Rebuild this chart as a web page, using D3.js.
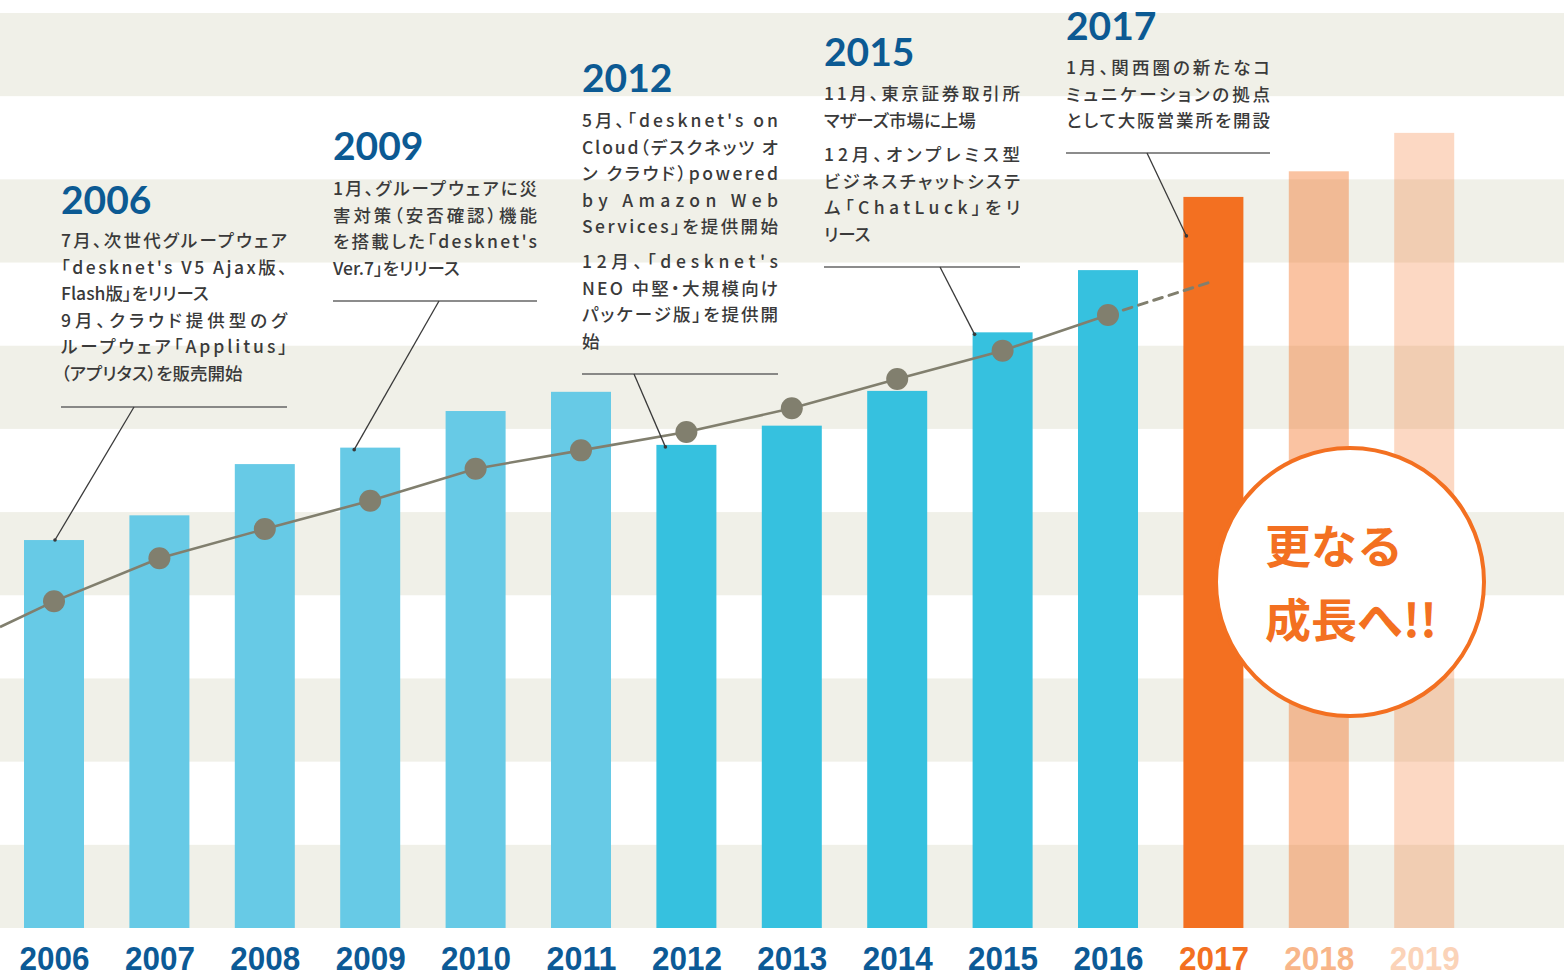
<!DOCTYPE html>
<html>
<head>
<meta charset="utf-8">
<script src="https://cdn.jsdelivr.net/npm/d3@7"></script>
<style>
  body { margin: 0; background: #fff; }
  svg { display: block; }
  .note { font-feature-settings: "palt"; }
</style>
</head>
<body>
<div id="chart"></div>
<script>
// years on the x axis
var years = ["2006","2007","2008","2009","2010","2011","2012","2013","2014","2015","2016","2017","2018","2019"];
// bar heights (relative units, 0-100)
var barValues = [42.4, 45.1, 50.7, 52.5, 56.5, 58.6, 52.8, 54.9, 58.7, 65.1, 71.9, 79.9, 82.7, 86.9];
// growth line (solid part 2006-2016), then the dashed forecast to 2017
var lineYears = ["2006","2007","2008","2009","2010","2011","2012","2013","2014","2015","2016"];
var lineValues = [35.7, 40.4, 43.6, 46.7, 50.2, 52.2, 54.2, 56.8, 60.0, 63.1, 67.0];
var lineLeadIn = 32.9;          // value where the line enters at the left edge
var forecastYear = "2017";
var forecastValue = 70.7;

// milestone notes
var noteYears = ["2006", "2009", "2012", "2015", "2017"];
var noteLines = [
  ["7月、次世代グループウェア", "「desknet's V5 Ajax版、", "Flash版」をリリース", "9月、クラウド提供型のグ", "ループウェア「Applitus」", "（アプリタス）を販売開始"],
  ["1月、グループウェアに災", "害対策（安否確認）機能", "を搭載した「desknet's", "Ver.7」をリリース"],
  ["5月、「desknet's on", "Cloud（デスクネッツ オ", "ン クラウド）powered", "by Amazon Web", "Services」を提供開始", "12月、「desknet's", "NEO 中堅・大規模向け", "パッケージ版」を提供開", "始"],
  ["11月、東京証券取引所", "マザーズ市場に上場", "12月、オンプレミス型", "ビジネスチャットシステ", "ム「ChatLuck」をリ", "リース"],
  ["1月、関西圏の新たなコ", "ミュニケーションの拠点", "として大阪営業所を開設"]
];
var bubbleLines = ["更なる", "成長へ!!"];

// layout of each note block (kept apart from the data)
var noteLayout = [
  {x: 61,   w: 226, head: 214, first: 247, gaps: [0,1,2,3,4,5],       just: [1,1,0,1,1,0],         ruleY: 407, topX: 134,  dx: 31, dy: 0},
  {x: 333,  w: 204, head: 160, first: 195, gaps: [0,1,2,3],           just: [1,1,1,0],             ruleY: 301, topX: 439,  dx: 14, dy: 2},
  {x: 582,  w: 196, head: 92,  first: 127, gaps: [0,1,2,3,4,5.3,6.3,7.3,8.3], just: [1,1,1,1,1,1,1,1,0], ruleY: 374, topX: 634, dx: 9, dy: 2},
  {x: 824,  w: 196, head: 66,  first: 100, gaps: [0,1,2.3,3.3,4.3,5.3], just: [1,0,1,1,1,0],       ruleY: 267, topX: 940,  dx: 2,  dy: 2},
  {x: 1066, w: 204, head: 40,  first: 74,  gaps: [0,1,2],             just: [1,1,1],               ruleY: 153, topX: 1147, dx: 3,  dy: 39}
];

var W = 1564, H = 978;
var barW = 60;
var lineH = 26.6;

var svg = d3.select("#chart").append("svg")
    .attr("width", W)
    .attr("height", H);

// scales
var x = d3.scalePoint()
    .domain(years)
    .range([54, 1424.2]);

var y = d3.scaleLinear()
    .domain([0, 100])
    .range([928, 13]);

// background stripes
var nBands = 11;
var bandH = (y(0) - y(100)) / nBands;
svg.append("g").selectAll("rect")
    .data(d3.range(0, nBands, 2))
    .join("rect")
      .attr("x", 0)
      .attr("y", function (i) { return y(100) + i * bandH; })
      .attr("width", W)
      .attr("height", bandH)
      .attr("fill", "#f0f0e8");

// bar colours
function barFill(yr) {
    var n = +yr;
    if (n <= 2011) return "#67cae6";
    if (n <= 2016) return "#36c1df";
    return "#f37021";
}
function barOpacity(yr) {
    if (yr === "2018") return 0.42;
    if (yr === "2019") return 0.27;
    return 1;
}

svg.append("g").selectAll("rect")
    .data(years)
    .join("rect")
      .attr("x", function (d) { return x(d) - barW / 2; })
      .attr("y", function (d, i) { return y(barValues[i]); })
      .attr("width", barW)
      .attr("height", function (d, i) { return y(0) - y(barValues[i]); })
      .attr("fill", barFill)
      .attr("fill-opacity", barOpacity);

// growth line
var linePts = [[0, y(lineLeadIn)]].concat(lineYears.map(function (d, i) { return [x(d), y(lineValues[i])]; }));
svg.append("path")
    .attr("d", d3.line()(linePts))
    .attr("fill", "none")
    .attr("stroke", "#817f6e")
    .attr("stroke-width", 2.6);

var last = linePts[linePts.length - 1];
svg.append("path")
    .attr("d", d3.line()([last, [x(forecastYear), y(forecastValue)]]))
    .attr("fill", "none")
    .attr("stroke", "#817f6e")
    .attr("stroke-width", 3)
    .attr("stroke-dasharray", "9,7")
    .attr("stroke-linecap", "round");

svg.append("g").selectAll("circle")
    .data(lineYears)
    .join("circle")
      .attr("cx", function (d) { return x(d); })
      .attr("cy", function (d, i) { return y(lineValues[i]); })
      .attr("r", 11)
      .attr("fill", "#817f6e");

// year labels along the bottom
var labelColor = {"2017": "#f37021", "2018": "#f8b68a", "2019": "#fbd3b8"};
var xAxis = svg.append("g")
    .attr("transform", "translate(0," + 940 + ")")
    .call(d3.axisBottom(x).tickSize(0).tickPadding(0));
xAxis.select(".domain").remove();
xAxis.selectAll("text")
    .attr("y", 30)
    .attr("dy", 0)
    .attr("font-family", "'Liberation Sans', Arial, sans-serif")
    .attr("font-weight", "bold")
    .attr("font-size", 33)
    .attr("textLength", 70)
    .attr("lengthAdjust", "spacingAndGlyphs")
    .attr("fill", function (d) { return labelColor[d] || "#0c5a96"; });

// milestone notes
noteYears.forEach(function (yr, k) {
    var L = noteLayout[k];
    var g = svg.append("g");
    var bi = years.indexOf(yr);

    g.append("text")
        .attr("x", L.x)
        .attr("y", L.head)
        .attr("font-family", "Lato, 'Open Sans', sans-serif")
        .attr("font-weight", "bold")
        .attr("font-size", 39)
        .attr("fill", "#0c5a93")
        .text(yr);

    g.selectAll("text.note")
        .data(noteLines[k])
        .join("text")
          .attr("class", "note")
          .attr("x", L.x)
          .attr("y", function (d, i) { return L.first + L.gaps[i] * lineH; })
          .attr("font-family", "'Noto Sans CJK JP', sans-serif")
          .attr("font-weight", 500)
          .attr("font-size", 17.5)
          .attr("fill", "#3a3a3a")
          .each(function (d, i) {
              if (L.just[i]) d3.select(this).attr("textLength", L.w).attr("lengthAdjust", "spacing");
          })
          .text(function (d) { return d; });

    // rule under the note
    g.append("line")
        .attr("x1", L.x).attr("x2", L.x + L.w)
        .attr("y1", L.ruleY).attr("y2", L.ruleY)
        .attr("stroke", "#666")
        .attr("stroke-width", 1.3);

    // leader to the bar
    var ex = x(yr) - barW / 2 + L.dx;
    var ey = y(barValues[bi]) + L.dy;
    g.append("line")
        .attr("x1", L.topX).attr("y1", L.ruleY)
        .attr("x2", ex).attr("y2", ey)
        .attr("stroke", "#3a3a3a")
        .attr("stroke-width", 1.3);
    g.append("circle")
        .attr("cx", ex).attr("cy", ey)
        .attr("r", 1.8)
        .attr("fill", "#3a3a3a");
});

// "更なる成長へ!!" bubble
var bubble = svg.append("g");
bubble.append("circle")
    .attr("cx", 1350)
    .attr("cy", 582)
    .attr("r", 134)
    .attr("fill", "#fff")
    .attr("stroke", "#f37021")
    .attr("stroke-width", 4);
bubble.selectAll("text")
    .data(bubbleLines)
    .join("text")
      .attr("x", 1265)
      .attr("y", function (d, i) { return 563 + i * 74; })
      .attr("font-family", "'Noto Sans CJK JP', sans-serif")
      .attr("font-weight", "bold")
      .attr("font-size", 46)
      .attr("fill", "#f37021")
      .text(function (d) { return d; });
</script>
</body>
</html>
